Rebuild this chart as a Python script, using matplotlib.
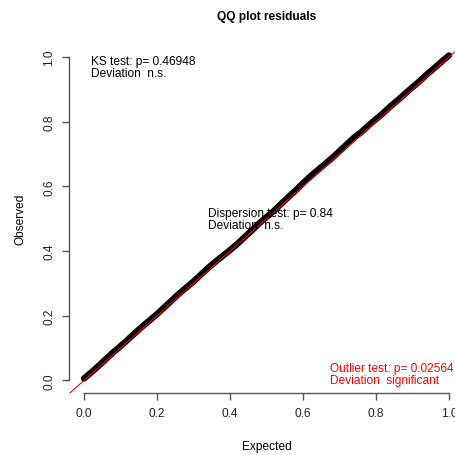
import matplotlib
matplotlib.use('Agg')
import matplotlib.pyplot as plt

plt.rcParams['font.family'] = ['Liberation Sans', 'DejaVu Sans']

# expected uniform quantiles and observed scaled residuals
expected = [0.00, 0.02, 0.04, 0.06, 0.08, 0.10, 0.12, 0.14, 0.16, 0.18,
            0.20, 0.22, 0.24, 0.26, 0.28, 0.30, 0.32, 0.34, 0.36, 0.38,
            0.40, 0.42, 0.44, 0.46, 0.48, 0.50, 0.52, 0.54, 0.56, 0.58,
            0.60, 0.62, 0.64, 0.66, 0.68, 0.70, 0.72, 0.74, 0.76, 0.78,
            0.80, 0.82, 0.84, 0.86, 0.88, 0.90, 0.92, 0.94, 0.96, 0.98, 1.00]
observed = [0.006, 0.025, 0.045, 0.066, 0.087, 0.106, 0.126, 0.147, 0.167, 0.186,
            0.205, 0.226, 0.247, 0.268, 0.287, 0.306, 0.327, 0.348, 0.367, 0.385,
            0.403, 0.422, 0.443, 0.464, 0.486, 0.505, 0.524, 0.546, 0.567, 0.588,
            0.610, 0.631, 0.650, 0.669, 0.688, 0.709, 0.730, 0.751, 0.768, 0.789,
            0.808, 0.827, 0.848, 0.867, 0.887, 0.907, 0.926, 0.947, 0.966, 0.986, 1.005]

ticks = [0.0, 0.2, 0.4, 0.6, 0.8, 1.0]
tick_labels = ['0.0', '0.2', '0.4', '0.6', '0.8', '1.0']

ks_text = 'KS test: p= 0.46948\nDeviation  n.s.'
disp_text = 'Dispersion test: p= 0.84\nDeviation  n.s.'
outlier_text = 'Outlier test: p= 0.02564\nDeviation  significant'

fig = plt.figure(figsize=(4.55, 4.56), dpi=100)
ax = fig.add_axes([0.1525, 0.1351, 0.8664, 0.766])
ax.set_xlim(-0.04, 1.04)
ax.set_ylim(-0.04, 1.04)

# overlapping qq points form one solid band
ax.plot(expected, observed, color='black', lw=4.6, solid_capstyle='round',
        solid_joinstyle='round', zorder=2)
ax.axline((0, 0), slope=1, color='red', lw=0.8, zorder=3)

for side in ['top', 'right']:
    ax.spines[side].set_visible(False)
for side in ['left', 'bottom']:
    ax.spines[side].set_bounds(0, 1)
    ax.spines[side].set_color('#555555')
    ax.spines[side].set_linewidth(1)

ax.set_xticks(ticks)
ax.set_xticklabels(tick_labels)
ax.set_yticks(ticks)
ax.set_yticklabels(tick_labels, rotation=90, va='center')
ax.tick_params(axis='both', length=5, width=1, color='#555555',
               labelsize=8.6, labelcolor='#222222')
ax.tick_params(axis='x', pad=5)
ax.tick_params(axis='y', pad=5)

ax.set_xlabel('Expected', fontsize=8.6, labelpad=15)
ax.set_ylabel('Observed', fontsize=8.6, labelpad=12)
ax.set_title('QQ plot residuals', fontsize=8.6, fontweight='bold', pad=18)

ax.text(0.018, 1.005, ks_text, fontsize=8.6, va='top', ha='left', linespacing=1.0)
ax.text(0.34, 0.535, disp_text, fontsize=8.6, va='top', ha='left', linespacing=1.0)
ax.text(0.675, 0.058, outlier_text, fontsize=8.6, va='top', ha='left',
        color='red', linespacing=1.0)

fig.savefig('out.png', dpi=100)
